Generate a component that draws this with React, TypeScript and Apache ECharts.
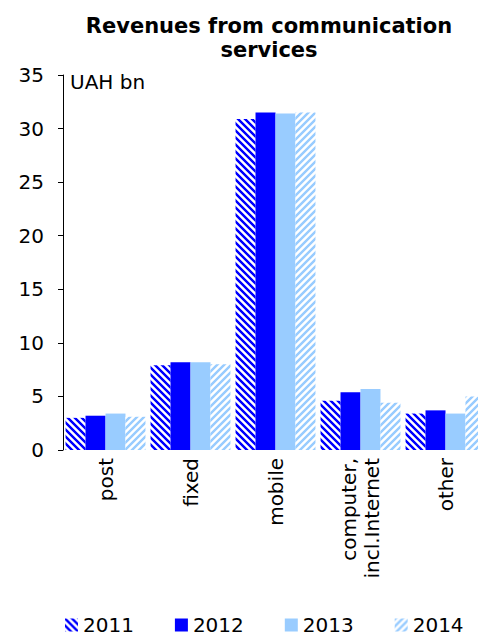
import React, { useEffect, useRef } from 'react';
import * as echarts from 'echarts';

// Revenues by service type, UAH bn
const categories = ['post', 'fixed', 'mobile', 'computer,\nincl.Internet', 'other'];
const years = ['2011', '2012', '2013', '2014'];
const v2011 = [3.0, 7.9, 30.9, 4.6, 3.4];
const v2012 = [3.2, 8.2, 31.5, 5.4, 3.7];
const v2013 = [3.4, 8.2, 31.4, 5.7, 3.4];
const v2014 = [3.1, 8.0, 31.5, 4.4, 5.0];

const FONT = 'DejaVu Sans';

// Soft diagonal stripe tile: dir 1 draws "\" stripes, dir -1 draws "/" stripes
function stripeTile(rgb: [number, number, number], dir: number, period = 7): HTMLCanvasElement {
  const cv = document.createElement('canvas');
  cv.width = period;
  cv.height = period;
  const ctx = cv.getContext('2d')!;
  const img = ctx.createImageData(period, period);
  for (let y = 0; y < period; y++) {
    for (let x = 0; x < period; x++) {
      const raw = dir > 0 ? x - y : x + y;
      const phase = ((raw % period) + period) % period;
      const t = 0.5 + 0.5 * Math.cos((2 * Math.PI * phase) / period);
      const s = Math.min(1, Math.max(0, (t - 0.5) * 2.2 + 0.5));
      const i = (y * period + x) * 4;
      img.data[i] = Math.round(255 * (1 - s) + rgb[0] * s);
      img.data[i + 1] = Math.round(255 * (1 - s) + rgb[1] * s);
      img.data[i + 2] = Math.round(255 * (1 - s) + rgb[2] * s);
      img.data[i + 3] = 255;
    }
  }
  ctx.putImageData(img, 0, 0);
  return cv;
}

export default function App() {
  const ref = useRef<HTMLDivElement>(null);

  useEffect(() => {
    if (!ref.current) return;
    const chart = echarts.init(ref.current, undefined, { renderer: 'svg' });

    const blueStripes = { image: stripeTile([0, 0, 255], 1), repeat: 'repeat' as const };
    const lightStripes = { image: stripeTile([153, 204, 255], -1), repeat: 'repeat' as const };
    const colors: any[] = [blueStripes, '#0000FF', '#99CCFF', lightStripes];
    const values = [v2011, v2012, v2013, v2014];

    chart.setOption({
      animation: false,
      backgroundColor: '#ffffff',
      title: {
        text: 'Revenues from communication\nservices',
        left: 269,
        top: 14,
        padding: 0,
        textAlign: 'center',
        textStyle: {
          fontFamily: FONT,
          fontSize: 21,
          fontWeight: 'bold',
          lineHeight: 24,
          color: '#000',
        },
      },
      legend: {
        data: years,
        left: 65,
        top: 615,
        width: 470,
        padding: 0,
        icon: 'rect',
        itemWidth: 13,
        itemHeight: 13,
        itemGap: 41,
        textStyle: { fontFamily: FONT, fontSize: 20, color: '#000' },
      },
      // the last category runs past the right edge, so the grid is not clamped
      grid: { left: 63, right: -10, top: 75, bottom: 187, outerBoundsMode: 'none' },
      xAxis: {
        type: 'category',
        data: categories,
        axisLine: { show: false },
        axisTick: { show: false },
        axisLabel: {
          rotate: 90,
          margin: 8,
          interval: 0,
          fontFamily: FONT,
          fontSize: 20,
          lineHeight: 23,
          color: '#000',
        },
      },
      yAxis: {
        type: 'value',
        min: 0,
        max: 35,
        interval: 5,
        splitLine: { show: false },
        axisLine: { show: true, lineStyle: { color: '#000', width: 1 } },
        axisTick: { show: true, length: 5, lineStyle: { color: '#000' } },
        axisLabel: {
          margin: 19,
          fontFamily: FONT,
          fontSize: 20,
          color: '#000',
        },
      },
      graphic: [
        {
          type: 'text',
          x: 70,
          y: 82,
          style: {
            text: 'UAH bn',
            fontFamily: FONT,
            fontSize: 20,
            fill: '#000',
            verticalAlign: 'middle',
          },
        },
      ],
      series: years.map((y, i) => ({
        name: y,
        type: 'bar',
        data: values[i],
        barGap: '0%',
        barCategoryGap: '6%',
        itemStyle: { color: colors[i] },
      })),
    });

    return () => chart.dispose();
  }, []);

  return (
    <div
      ref={ref}
      style={{ position: 'fixed', left: 0, top: 0, width: 478, height: 637 }}
    />
  );
}
